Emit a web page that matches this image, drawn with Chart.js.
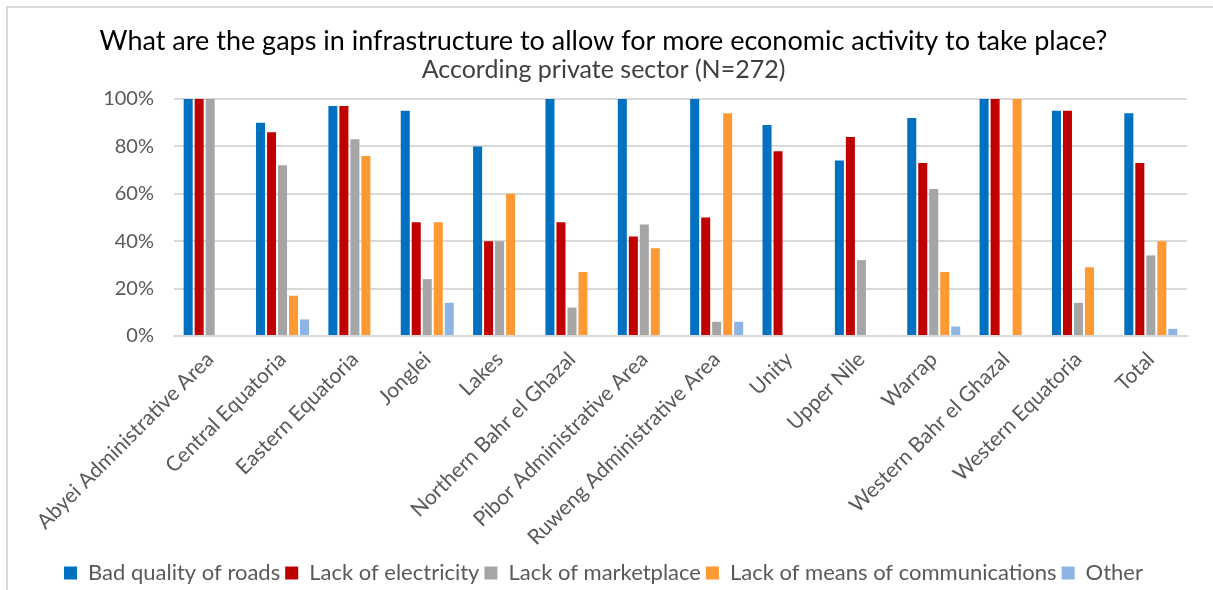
<!DOCTYPE html>
<html lang="en">
<head>
    <meta charset="UTF-8">
    <title>Infrastructure gaps</title>
    <script src="https://cdn.jsdelivr.net/npm/chart.js"></script>
    <style>
        body { margin: 0; background: #fff; }
        .frame {
            position: absolute; left: 6px; top: 6px; width: 1300px; height: 700px;
            border-left: 2px solid #d9d9d9; border-top: 2px solid #d9d9d9;
        }
        .wrap { position: absolute; left: 0; top: 0; width: 1213px; height: 590px; }
    </style>
</head>
<body>
    <div class="frame"></div>
    <div class="wrap"><canvas id="myChart"></canvas></div>

    <script>
        const regions = [
            "Abyei Administrative Area", "Central Equatoria", "Eastern Equatoria", "Jonglei", "Lakes",
            "Northern Bahr el Ghazal", "Pibor Administrative Area", "Ruweng Administrative Area", "Unity",
            "Upper Nile", "Warrap", "Western Bahr el Ghazal", "Western Equatoria", "Total"
        ];

        const badRoads      = [100, 90, 97, 95, 80, 100, 100, 100, 89, 74, 92, 100, 95, 94];
        const noElectricity = [100, 86, 97, 48, 40, 48, 42, 50, 78, 84, 73, 100, 95, 73];
        const noMarketplace = [100, 72, 83, 24, 40, 12, 47, 6, 0, 32, 62, 0, 14, 34];
        const noComms       = [0, 17, 76, 48, 60, 27, 37, 94, 0, 0, 27, 100, 29, 40];
        const other         = [0, 7, 0, 14, 0, 0, 0, 6, 0, 0, 4, 0, 0, 3];

        const yTicks = [0, 20, 40, 60, 80, 100];

        const font = "Lato, 'Liberation Sans', sans-serif";

        function serie(label, data, color) {
            return { label: label, data: data, backgroundColor: color, borderWidth: 0 };
        }

        const ctx = document.getElementById("myChart").getContext("2d");

        new Chart(ctx, {
            type: "bar",
            data: {
                labels: regions,
                datasets: [
                    serie("Bad quality of roads", badRoads, "#0070C0"),
                    serie("Lack of electricity", noElectricity, "#C00000"),
                    serie("Lack of marketplace", noMarketplace, "#A5A5A5"),
                    serie("Lack of means of communications", noComms, "#FF9933"),
                    serie("Other", other, "#8EB4E3")
                ]
            },
            options: {
                responsive: true,
                maintainAspectRatio: false,
                animation: false,
                datasets: { bar: { categoryPercentage: 0.76, barPercentage: 0.82 } },
                layout: { padding: { left: 20, right: 26, top: 16, bottom: -4 } },
                plugins: {
                    title: {
                        display: true,
                        text: "What are the gaps in infrastructure to allow for more economic activity to take place?",
                        color: "#000",
                        font: { family: font, size: 27, weight: "normal", lineHeight: 1.0 },
                        padding: { top: 12, bottom: 0 }
                    },
                    subtitle: {
                        display: true,
                        text: "According private sector (N=272)",
                        color: "#404040",
                        font: { family: font, size: 25, weight: "normal" },
                        padding: { top: 0, bottom: 14 }
                    },
                    legend: {
                        position: "bottom",
                        labels: {
                            color: "#595959",
                            font: { family: font, size: 22 },
                            boxWidth: 13,
                            boxHeight: 13,
                            padding: 5
                        }
                    },
                    tooltip: { enabled: false }
                },
                scales: {
                    x: {
                        grid: { display: false },
                        border: { color: "#d9d9d9", width: 2 },
                        ticks: {
                            color: "#595959",
                            font: { family: font, size: 21 },
                            minRotation: 45,
                            maxRotation: 45,
                            autoSkip: false
                        },
                        afterFit: (scale) => { scale.height = 221; }
                    },
                    y: {
                        min: 0,
                        max: 100,
                        afterBuildTicks: (scale) => { scale.ticks = yTicks.map(v => ({ value: v })); },
                        afterFit: (scale) => { scale.width = 154; },
                        grid: { color: "#d9d9d9", lineWidth: 2, drawTicks: false },
                        border: { display: false },
                        ticks: {
                            color: "#595959",
                            font: { family: font, size: 20 },
                            padding: 20,
                            callback: (v) => v + "%"
                        }
                    }
                }
            }
        });
    </script>
</body>
</html>
